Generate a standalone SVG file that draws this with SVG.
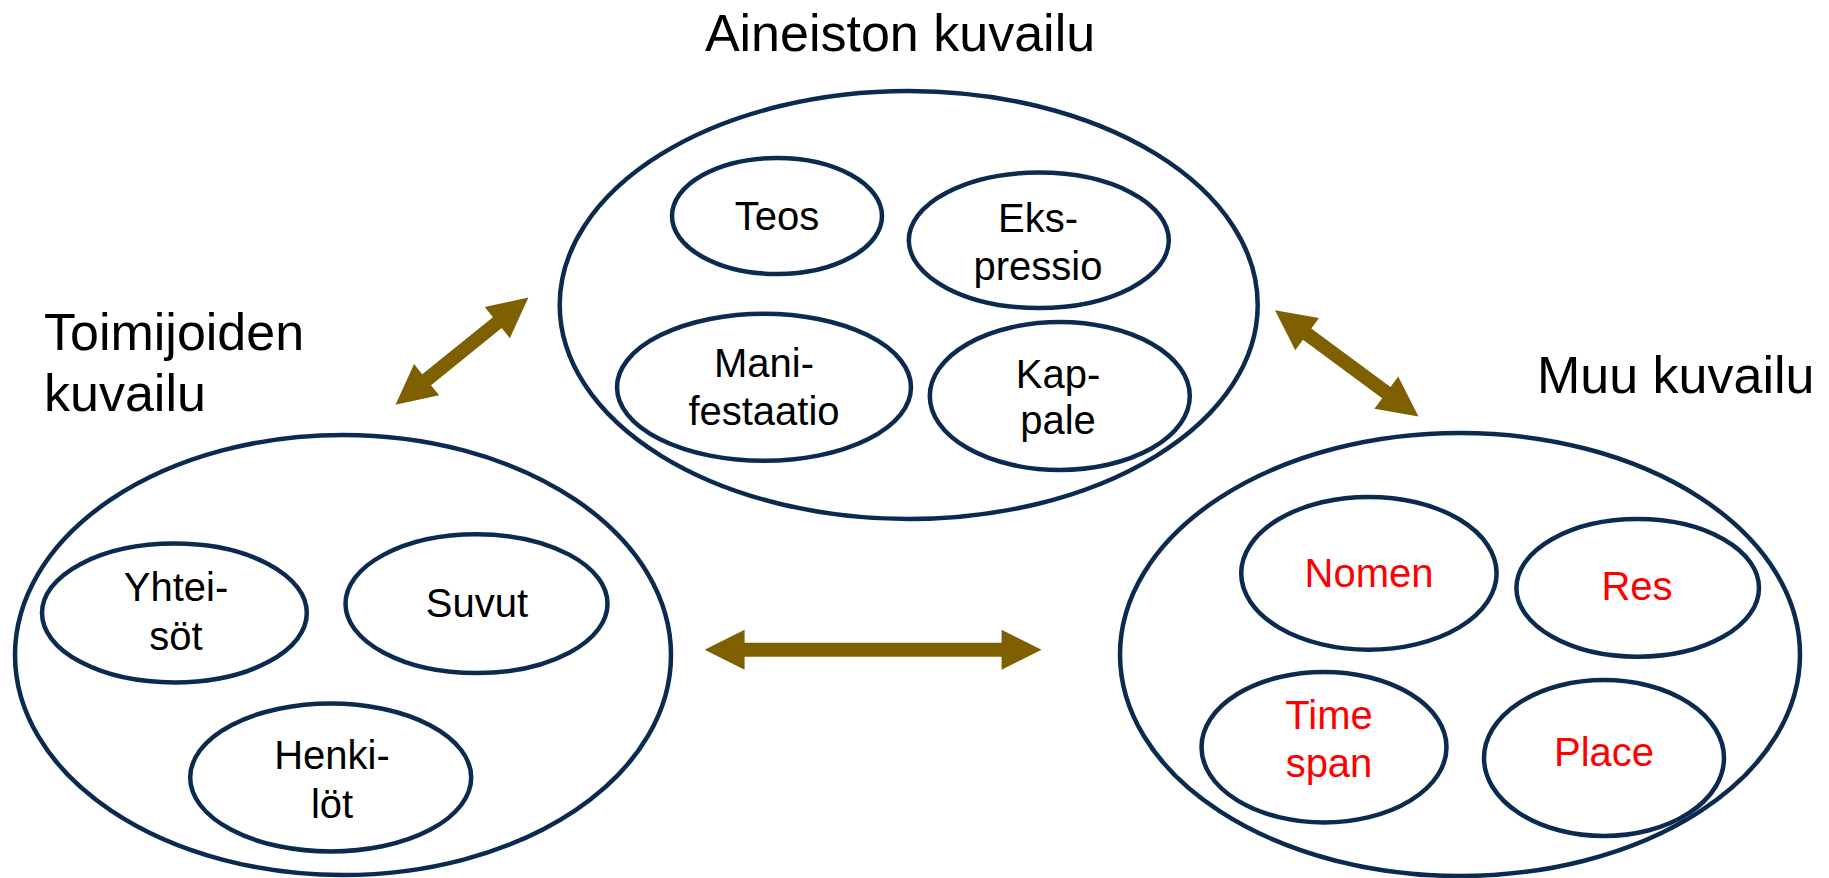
<svg xmlns="http://www.w3.org/2000/svg" width="1829" height="878" viewBox="0 0 1829 878">
<style>
.outer{fill:#fff;stroke:#0b2a50;stroke-width:4.5}
.inner{fill:#fff;stroke:#0b2a50;stroke-width:4.5}
.t{font-family:"Liberation Sans",Arial,sans-serif;font-size:40px;text-anchor:middle;fill:#000}
.r{fill:#ff0000}
.title{font-family:"Liberation Sans",Arial,sans-serif;font-size:52px;fill:#000}
.arrow{fill:#7f6000}
</style>
<rect width="1829" height="878" fill="#fff"/>
<g id="aineisto">
<text class="title" x="900" y="51" text-anchor="middle">Aineiston kuvailu</text>
<ellipse class="outer" cx="908.7" cy="305" rx="349" ry="214"/>
<g id="teos"><ellipse class="inner" cx="777" cy="216" rx="105" ry="58"/><text class="t" x="777" y="230">Teos</text></g>
<g id="ekspressio"><ellipse class="inner" cx="1038.8" cy="240.3" rx="130" ry="67.7"/><text class="t" x="1038" y="232">Eks-</text><text class="t" x="1038" y="280">pressio</text></g>
<g id="manifestaatio"><ellipse class="inner" cx="764" cy="387.3" rx="147" ry="73.5"/><text class="t" x="764" y="377">Mani-</text><text class="t" x="764" y="425">festaatio</text></g>
<g id="kappale"><ellipse class="inner" cx="1059.8" cy="396" rx="130" ry="74"/><text class="t" x="1058" y="388">Kap-</text><text class="t" x="1058" y="434">pale</text></g>
</g>
<g id="toimijat">
<text class="title" x="44" y="350">Toimijoiden</text>
<text class="title" x="44" y="411">kuvailu</text>
<ellipse class="outer" cx="343" cy="655" rx="328" ry="220"/>
<g id="yhteisot"><ellipse class="inner" cx="174.4" cy="613" rx="132.4" ry="69.4"/><text class="t" x="176" y="601">Yhtei-</text><text class="t" x="176" y="650">söt</text></g>
<g id="suvut"><ellipse class="inner" cx="476.5" cy="603.7" rx="131" ry="69.4"/><text class="t" x="477" y="617">Suvut</text></g>
<g id="henkilot"><ellipse class="inner" cx="330.7" cy="777.5" rx="140.5" ry="74"/><text class="t" x="332" y="769">Henki-</text><text class="t" x="332" y="818">löt</text></g>
</g>
<g id="muu">
<text class="title" x="1537" y="393">Muu kuvailu</text>
<ellipse class="outer" cx="1460" cy="654.5" rx="340" ry="221.5"/>
<g id="nomen"><ellipse class="inner" cx="1368.9" cy="573.3" rx="127.7" ry="76.4"/><text class="t r" x="1369" y="587">Nomen</text></g>
<g id="res"><ellipse class="inner" cx="1637.7" cy="587.9" rx="121.3" ry="68.8"/><text class="t r" x="1637" y="600">Res</text></g>
<g id="timespan"><ellipse class="inner" cx="1324" cy="747.2" rx="122.5" ry="75.2"/><text class="t r" x="1329" y="729">Time</text><text class="t r" x="1329" y="777">span</text></g>
<g id="place"><ellipse class="inner" cx="1604" cy="758" rx="120" ry="78"/><text class="t r" x="1604" y="766">Place</text></g>
</g>
<g id="connectors">
<polygon class="arrow" transform="translate(395.5,404.8) rotate(-38.9)" points="0,0 40,-20 40,-7 130.8,-7 130.8,-20 170.8,0 130.8,20 130.8,7 40,7 40,20"/>
<polygon class="arrow" transform="translate(1275,310.3) rotate(36.5)" points="0,0 40,-20 40,-7 138.5,-7 138.5,-20 178.5,0 138.5,20 138.5,7 40,7 40,20"/>
<polygon class="arrow" transform="translate(704.6,649.7)" points="0,0 40,-20 40,-7 297,-7 297,-20 337,0 297,20 297,7 40,7 40,20"/>
</g>
</svg>
